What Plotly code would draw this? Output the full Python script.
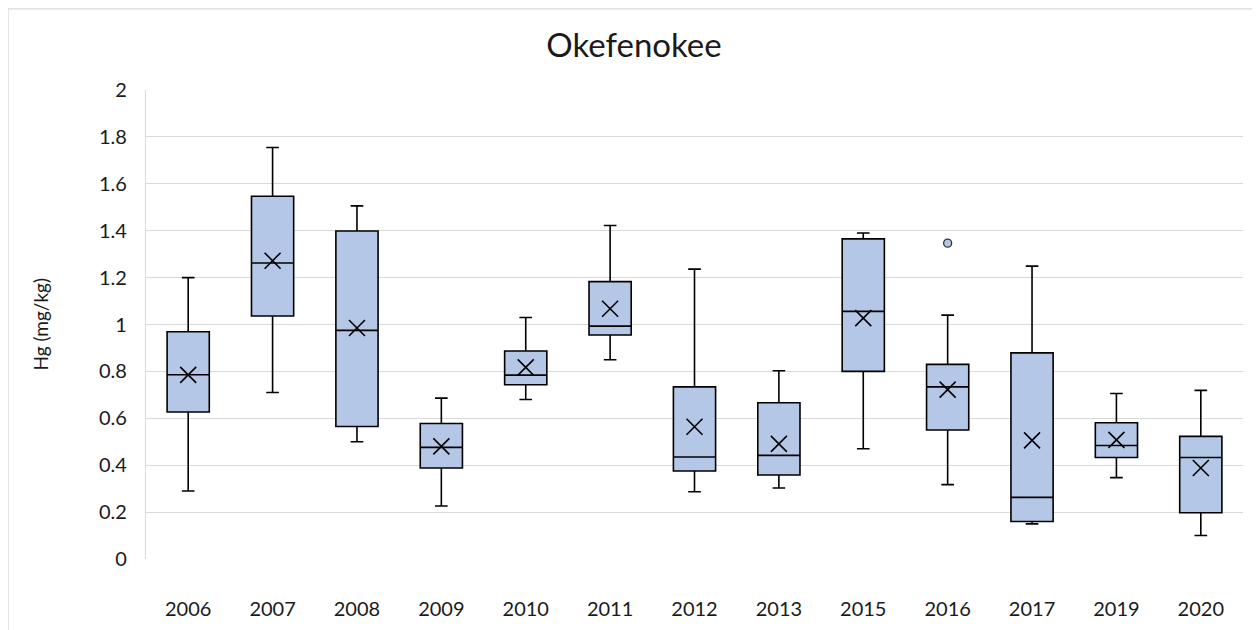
import plotly.graph_objects as go

years = ['2006', '2007', '2008', '2009', '2010', '2011', '2012', '2013',
         '2015', '2016', '2017', '2019', '2020']
lower = [0.29, 0.71, 0.50, 0.226, 0.68, 0.85, 0.287, 0.303, 0.47, 0.317, 0.15, 0.347, 0.10]
q1 = [0.627, 1.036, 0.565, 0.388, 0.743, 0.955, 0.375, 0.358, 0.80, 0.55, 0.16, 0.433, 0.197]
median = [0.786, 1.262, 0.975, 0.476, 0.784, 0.993, 0.435, 0.442, 1.056, 0.734, 0.263, 0.484, 0.433]
q3 = [0.969, 1.547, 1.399, 0.578, 0.887, 1.183, 0.734, 0.666, 1.365, 0.83, 0.879, 0.581, 0.523]
upper = [1.20, 1.755, 1.506, 0.686, 1.03, 1.422, 1.236, 0.803, 1.39, 1.04, 1.249, 0.706, 0.719]
means = [0.785, 1.272, 0.985, 0.48, 0.817, 1.067, 0.564, 0.491, 1.027, 0.722, 0.506, 0.508, 0.388]
outlier_years = ['2016']
outlier_vals = [1.347]

fill = '#B4C7E7'
font = 'Lato'
txt = '#1a1a1a'

fig = go.Figure()
fig.add_trace(go.Box(
    x=years, q1=q1, median=median, q3=q3,
    lowerfence=lower, upperfence=upper,
    boxpoints=False, fillcolor=fill,
    line=dict(color='black', width=1.6),
    whiskerwidth=0.3, width=0.5, showlegend=False, hoverinfo='skip',
))
fig.add_trace(go.Scatter(
    x=years, y=means, mode='markers', showlegend=False,
    marker=dict(symbol='x-thin-open', size=16, color='black',
                line=dict(color='black', width=1.6)),
))
fig.add_trace(go.Scatter(
    x=outlier_years, y=outlier_vals, mode='markers', showlegend=False,
    marker=dict(symbol='circle', size=8, color=fill, line=dict(color='#333333', width=1.3)),
))

# page body has an 8px margin, so the figure is sized to fit inside the window
fig.update_layout(
    width=1252, height=622,
    paper_bgcolor='white', plot_bgcolor='white',
    margin=dict(l=138, r=17, t=82, b=71, autoexpand=False),
    font=dict(family=font, size=20, color=txt),
    title=dict(text='Okefenokee', x=0.5, xanchor='center', y=0.94, yanchor='middle',
               font=dict(size=33, family=font, color=txt)),
    xaxis=dict(type='category', range=[-0.5, 12.5], showgrid=False, showline=False,
               ticks='', tickfont=dict(size=20), zeroline=False, ticklabelstandoff=36),
    yaxis=dict(range=[0, 2], dtick=0.2, showgrid=True, gridcolor='#d9d9d9', gridwidth=1.3,
               showline=True, linecolor='#d9d9d9', linewidth=1.3, zeroline=False,
               ticks='', tickfont=dict(size=20), ticklabelstandoff=14),
    annotations=[dict(text='Hg (mg/kg)', xref='paper', yref='paper', x=-0.0966, y=0.5,
                      textangle=-90, showarrow=False, xanchor='center', yanchor='middle',
                      font=dict(size=19, family=font, color=txt))],
    shapes=[dict(type='rect', xref='paper', yref='paper',
                 x0=-0.1258, x1=1.0137, y0=-0.16, y1=1.173,
                 line=dict(color='#d9d9d9', width=1.3), fillcolor='rgba(0,0,0,0)')],
)

fig.write_html("out.html")
